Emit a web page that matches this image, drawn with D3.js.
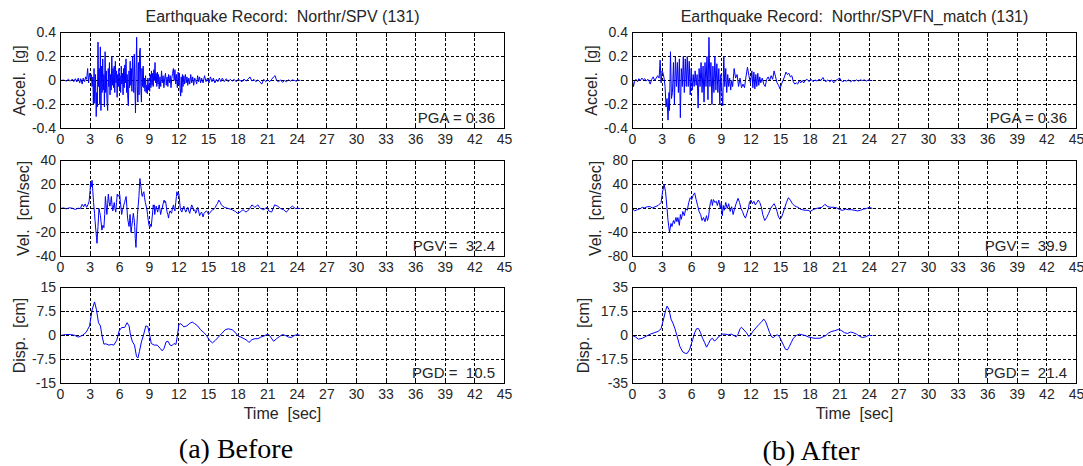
<!DOCTYPE html>
<html>
<head>
<meta charset="utf-8">
<script src="https://cdn.jsdelivr.net/npm/d3@7"></script>
<style>
  body { margin: 0; background: #fff; }
  svg { display: block; }
  text { font-family: "Liberation Sans", Arial, sans-serif; fill: #262626; }
  .caption { font-family: "Liberation Serif", "Times New Roman", serif; fill: #000; }
</style>
</head>
<body>
<svg id="chart" width="1083" height="466"></svg>
<script>
// ---- Record names and peak values ----
const titleBefore = "Earthquake Record:  Northr/SPV (131)";
const titleAfter = "Earthquake Record:  Northr/SPVFN_match (131)";
const captionBefore = "(a) Before";
const captionAfter = "(b) After";
const peaksBefore = [0.36, 32.4, 10.5];   // PGA [g], PGV [cm/sec], PGD [cm]
const peaksAfter = [0.36, 39.9, 21.4];

// ---- Tick labels ----
const timeTicks = [0, 3, 6, 9, 12, 15, 18, 21, 24, 27, 30, 33, 36, 39, 42, 45];
const accelTicks = [-0.4, -0.2, 0, 0.2, 0.4];
const velTicksBefore = [-40, -20, 0, 20, 40];
const dispTicksBefore = [-15, -7.5, 0, 7.5, 15];
const velTicksAfter = [-80, -40, 0, 40, 80];
const dispTicksAfter = [-35, -17.5, 0, 17.5, 35];

// ---- Time histories: [time (sec), value] ----
const accelBefore = [[0,0],[0.3,0.003],[0.6,-0.004],[0.8,0.01],[1.0,-0.005],[1.2,0.012],[1.35,-0.01],[1.5,0.015],[1.65,-0.012],[1.8,0.02],[1.95,-0.02],[2.05,0.015],[2.2,-0.03],[2.3,0.02],[2.45,-0.01],[2.55,0.03],[2.65,0.01],[2.75,0.1],[2.85,-0.02],[2.95,0.06],[3.05,0.02],[3.12,0.05],[3.2,-0.05],[3.28,0.03],[3.33,-0.2],[3.4,0.1],[3.47,-0.19],[3.55,0.05],[3.62,-0.3],[3.68,-0.1],[3.74,-0.22],[3.8,0.32],[3.86,-0.05],[3.92,0.1],[3.98,-0.2],[4.04,0.28],[4.1,-0.25],[4.16,0.12],[4.22,-0.1],[4.28,0.18],[4.34,-0.08],[4.4,0.05],[4.45,-0.22],[4.52,0.24],[4.58,-0.1],[4.64,0.08],[4.7,-0.15],[4.78,-0.25],[4.84,0.1],[4.9,-0.05],[4.96,0.15],[5.02,-0.12],[5.08,0.05],[5.14,-0.08],[5.2,0.2],[5.26,-0.04],[5.32,0.1],[5.38,-0.06],[5.44,0.12],[5.5,-0.1],[5.56,0.16],[5.62,-0.02],[5.68,0.08],[5.74,-0.14],[5.8,0.05],[5.86,-0.05],[5.92,0.1],[5.98,-0.08],[6.04,0.04],[6.1,-0.1],[6.16,0.12],[6.22,-0.03],[6.28,0.06],[6.34,-0.12],[6.4,0.1],[6.46,-0.06],[6.52,0.13],[6.58,-0.02],[6.64,0.18],[6.7,-0.1],[6.76,0.05],[6.82,-0.15],[6.88,-0.21],[6.94,0.08],[7.0,-0.06],[7.06,0.16],[7.12,-0.04],[7.18,0.1],[7.24,-0.09],[7.3,0.2],[7.36,0.05],[7.42,-0.1],[7.48,0.22],[7.54,-0.05],[7.6,-0.27],[7.66,0.1],[7.72,0.36],[7.78,-0.05],[7.84,-0.18],[7.9,0.15],[7.96,-0.12],[8.02,0.25],[8.08,0.27],[8.14,-0.05],[8.2,-0.18],[8.26,0.1],[8.32,-0.05],[8.38,0.12],[8.44,-0.06],[8.5,0.02],[8.56,-0.09],[8.62,0.04],[8.68,-0.1],[8.74,-0.04],[8.8,-0.11],[8.86,0.02],[8.92,-0.08],[8.98,-0.03],[9.04,-0.09],[9.1,0.05],[9.16,-0.06],[9.22,0.08],[9.28,-0.04],[9.34,0.06],[9.4,-0.05],[9.46,0.09],[9.52,0.0],[9.58,0.15],[9.64,-0.02],[9.7,0.06],[9.76,-0.05],[9.82,0.07],[9.88,-0.03],[9.94,0.05],[10.0,-0.07],[10.08,0.03],[10.16,-0.05],[10.24,0.08],[10.32,-0.02],[10.4,0.04],[10.48,-0.06],[10.56,0.02],[10.64,0.06],[10.72,-0.04],[10.8,0.03],[10.88,-0.05],[10.96,0.05],[11.04,-0.02],[11.12,0.04],[11.2,-0.06],[11.28,0.02],[11.36,0.06],[11.44,0.1],[11.52,0.0],[11.6,0.09],[11.68,-0.03],[11.76,0.05],[11.84,-0.06],[11.92,0.07],[12.0,-0.04],[12.06,0.06],[12.12,-0.08],[12.18,-0.13],[12.24,0.03],[12.3,-0.1],[12.36,0.05],[12.42,-0.05],[12.5,0.04],[12.58,-0.03],[12.66,0.05],[12.74,-0.02],[12.82,0.03],[12.9,-0.04],[13.0,0.02],[13.1,-0.03],[13.2,0.05],[13.3,-0.02],[13.4,0.03],[13.5,-0.04],[13.6,0.02],[13.7,0.0],[13.8,-0.03],[13.9,0.04],[14.0,-0.01],[14.1,0.03],[14.2,-0.02],[14.3,0.02],[14.45,-0.02],[14.6,0.04],[14.75,-0.01],[14.9,0.02],[15.05,-0.02],[15.2,0.03],[15.35,-0.01],[15.5,0.02],[15.65,-0.02],[15.8,0.01],[15.95,-0.01],[16.1,0.02],[16.25,-0.01],[16.4,0.02],[16.6,-0.01],[16.8,0.015],[17.0,-0.01],[17.2,0.01],[17.4,-0.005],[17.6,0.01],[17.8,-0.01],[18.0,0.01],[18.2,0.0],[18.4,-0.01],[18.6,0.012],[18.8,-0.005],[19.0,0.01],[19.2,0.03],[19.4,-0.005],[19.6,0.01],[19.8,-0.01],[20.0,0.005],[20.2,-0.01],[20.4,-0.03],[20.6,0.01],[20.8,-0.01],[21.0,0.005],[21.2,-0.01],[21.4,0.01],[21.6,0.03],[21.75,0.04],[21.9,0.0],[22.1,-0.01],[22.3,0.005],[22.5,-0.015],[22.7,0.0],[22.9,-0.01],[23.1,0.005],[23.3,-0.005],[23.5,0.005],[23.7,0.0],[23.9,-0.005],[24.1,0.003],[24.3,0.0]];

const velBefore = [[0,0],[0.3,0.5],[0.6,-0.3],[0.9,0.6],[1.2,0.2],[1.5,-0.8],[1.8,0.3],[2.0,-0.2],[2.2,3.5],[2.35,1.5],[2.5,3.8],[2.65,1.0],[2.8,3.5],[2.9,6],[3.0,15],[3.05,22],[3.12,18],[3.2,23.5],[3.28,14],[3.35,5],[3.45,-4],[3.5,-10],[3.58,-18],[3.65,-24],[3.7,-29],[3.76,-20],[3.8,-15],[3.85,-8],[3.9,0],[3.97,-3],[4.05,-6],[4.12,-12],[4.2,-18],[4.3,-14],[4.4,-16],[4.48,-5],[4.55,10],[4.62,3],[4.7,-5],[4.78,4],[4.85,12],[4.92,6],[5.0,2],[5.08,5],[5.15,10],[5.22,3],[5.3,-2],[5.38,2],[5.45,5],[5.52,0],[5.6,-3],[5.68,5],[5.75,12],[5.82,10],[5.9,11],[6.0,12],[6.06,6],[6.1,3],[6.2,-5],[6.28,-1],[6.35,0],[6.42,3],[6.5,5],[6.58,8],[6.65,10],[6.72,2],[6.8,-8],[6.88,-12],[6.95,-15],[7.0,-10],[7.05,-5],[7.1,-12],[7.15,-20],[7.22,-15],[7.3,-10],[7.38,-4],[7.45,-8],[7.52,-15],[7.58,-25],[7.65,-32.4],[7.72,-18],[7.8,-5],[7.88,3],[7.95,10],[8.0,18],[8.05,25],[8.12,20],[8.2,15],[8.25,11],[8.3,10],[8.38,13],[8.45,14],[8.52,9],[8.6,5],[8.68,2],[8.75,0],[8.82,-5],[8.9,-10],[8.97,-14],[9.05,-16],[9.12,-13],[9.2,-15],[9.28,-8],[9.35,-2],[9.4,3],[9.45,1],[9.5,3],[9.55,-5],[9.62,-1],[9.7,2],[9.78,-1],[9.85,-3],[9.92,0],[10.0,3],[10.08,-1],[10.15,-5],[10.22,-2],[10.3,0],[10.4,4],[10.5,7],[10.58,5],[10.65,6],[10.72,2],[10.8,-3],[10.88,-5],[10.95,-8],[11.02,-4],[11.1,-2],[11.18,-3],[11.25,-4],[11.35,0],[11.45,3],[11.52,0],[11.6,-2],[11.68,5],[11.75,10],[11.8,14],[11.88,11],[11.95,13],[12.0,12],[12.08,5],[12.15,0],[12.22,-2],[12.3,-3],[12.4,0],[12.5,2],[12.6,-1],[12.7,-3],[12.8,-1],[12.9,1],[13.0,-2],[13.1,-4],[13.2,0],[13.3,3],[13.4,1],[13.5,-2],[13.6,-1],[13.7,-4],[13.8,-2],[13.9,1],[14.0,-2],[14.1,-6],[14.2,-4],[14.3,-3],[14.45,-7],[14.55,-4],[14.65,-3],[14.8,-2],[14.9,-3],[15.0,-5],[15.1,-4],[15.2,-3],[15.3,-2],[15.4,-1],[15.5,-1],[15.6,0],[15.7,1],[15.8,3],[15.9,4],[16.05,7],[16.2,5],[16.3,3],[16.45,2],[16.6,1],[16.8,0.5],[17.0,0],[17.2,-0.5],[17.4,-1],[17.6,-2],[17.75,-2.5],[17.9,-4],[18.05,-3.5],[18.2,-3],[18.35,-2],[18.5,-1],[18.65,-2],[18.8,-3],[18.95,-2],[19.1,-1],[19.25,1],[19.4,3],[19.55,2],[19.7,1],[19.85,2],[20.0,3],[20.15,1],[20.3,0],[20.45,-0.5],[20.6,-1],[20.75,0],[20.9,1],[21.0,0],[21.1,-2],[21.25,-2.5],[21.4,-3],[21.55,0],[21.7,3],[21.85,2.5],[22.0,2],[22.15,1],[22.3,0],[22.45,-0.5],[22.6,-1],[22.75,-2],[22.9,-3],[23.05,-1.5],[23.2,0],[23.35,1],[23.5,2],[23.65,1],[23.8,0],[24.0,0.2],[24.3,0]];

const dispBefore = [[0,0],[0.5,0.3],[1.0,0.3],[1.4,0.1],[1.8,-0.5],[2.2,0],[2.6,1],[2.95,3],[3.2,8],[3.45,10.5],[3.65,8],[3.85,4],[4.05,3],[4.2,0],[4.4,-2.7],[4.6,-2.6],[4.9,-3],[5.2,-2.8],[5.4,-3],[5.7,-1.5],[5.95,1.5],[6.2,2.5],[6.5,2.5],[6.75,4],[6.95,3],[7.1,0],[7.3,-2],[7.5,-3],[7.7,-6.5],[7.85,-7],[8.0,-5],[8.2,-2],[8.4,0],[8.65,3],[8.85,2.8],[9.05,0],[9.2,-2.5],[9.5,-3],[9.8,-3],[10.1,-4],[10.3,-4.8],[10.5,-4],[10.7,-2],[10.9,-1.8],[11.1,-3],[11.3,-3.2],[11.5,-2.5],[11.7,-2.8],[11.85,0],[12.0,3.5],[12.2,3.7],[12.5,2.7],[12.8,3],[13.1,3.8],[13.35,4.2],[13.6,3.7],[13.9,3],[14.2,1.8],[14.5,1],[14.8,0],[15.1,-1.5],[15.4,-2.3],[15.7,-1.5],[16.0,-0.5],[16.3,0.5],[16.7,1.8],[17.0,2.1],[17.4,1.8],[17.7,1],[18.0,-0.2],[18.3,-0.5],[18.6,-1],[18.9,-1.5],[19.1,-2.2],[19.4,-1.3],[19.7,-1],[20.0,-1],[20.3,-0.5],[20.6,-0.2],[20.9,0.3],[21.1,0.3],[21.3,-0.5],[21.6,-1.8],[21.9,-1],[22.2,-0.3],[22.5,0.3],[22.8,0],[23.1,-0.5],[23.4,-0.6],[23.7,0],[24.0,0.3],[24.3,0]];

const accelAfter = [[0,0],[0.1,-0.05],[0.2,-0.01],[0.35,0.01],[0.5,-0.01],[0.65,0.015],[0.8,0.0],[0.95,0.02],[1.1,0.005],[1.25,0.015],[1.4,-0.005],[1.55,0.01],[1.7,-0.01],[1.8,-0.03],[1.95,0.01],[2.1,0.03],[2.25,0.0],[2.4,0.02],[2.55,0.04],[2.7,0.02],[2.8,0.17],[2.9,-0.02],[3.0,0.08],[3.1,0.06],[3.2,0.02],[3.3,-0.05],[3.4,-0.22],[3.5,-0.15],[3.6,-0.33],[3.7,-0.1],[3.75,-0.25],[3.85,0.24],[3.95,-0.15],[4.05,-0.1],[4.15,0.15],[4.25,-0.2],[4.35,0.2],[4.45,-0.05],[4.55,0.15],[4.65,-0.1],[4.75,0.18],[4.85,-0.31],[4.95,0.1],[5.05,-0.05],[5.15,0.2],[5.25,-0.1],[5.35,0.18],[5.45,-0.05],[5.55,0.2],[5.65,-0.05],[5.75,0.16],[5.85,-0.12],[5.95,0.1],[6.05,-0.08],[6.15,0.05],[6.25,-0.05],[6.35,0.08],[6.45,-0.04],[6.55,0.05],[6.65,-0.23],[6.75,0.1],[6.85,-0.05],[6.95,0.15],[7.05,-0.1],[7.15,0.12],[7.25,-0.18],[7.35,0.15],[7.45,-0.05],[7.55,0.2],[7.65,-0.16],[7.75,0.36],[7.85,-0.05],[7.95,0.15],[8.05,-0.2],[8.15,0.12],[8.25,-0.1],[8.35,0.2],[8.45,-0.08],[8.55,0.14],[8.65,-0.1],[8.75,0.1],[8.85,-0.2],[8.95,0.05],[9.05,-0.08],[9.15,-0.21],[9.25,0.2],[9.35,-0.05],[9.45,0.1],[9.55,-0.1],[9.65,0.05],[9.75,-0.05],[9.85,0.02],[9.95,-0.08],[10.05,0.0],[10.15,-0.05],[10.3,0.1],[10.45,0.02],[10.6,0.05],[10.75,-0.05],[10.9,0.02],[11.05,-0.06],[11.2,-0.03],[11.35,-0.06],[11.5,0.03],[11.65,0.11],[11.8,0.04],[11.95,-0.02],[12.1,0.08],[12.2,-0.06],[12.3,0.07],[12.4,-0.07],[12.5,0.05],[12.6,-0.05],[12.7,0.06],[12.8,-0.04],[12.9,0.03],[13.0,-0.02],[13.15,0.02],[13.3,-0.03],[13.45,-0.05],[13.6,0.01],[13.75,0.03],[13.9,0.0],[14.05,0.04],[14.2,0.01],[14.35,0.08],[14.5,0.03],[14.65,-0.02],[14.8,-0.04],[14.95,-0.07],[15.1,-0.03],[15.25,0.0],[15.4,0.03],[15.55,0.07],[15.7,0.05],[15.85,0.06],[16.0,0.03],[16.15,0.04],[16.3,-0.01],[16.45,-0.03],[16.6,-0.02],[16.75,-0.03],[16.9,0.0],[17.05,-0.02],[17.2,0.0],[17.35,-0.02],[17.5,0.0],[17.7,0.01],[17.9,-0.01],[18.1,0.01],[18.3,-0.01],[18.5,0.005],[18.7,-0.005],[18.9,0.01],[19.1,0.0],[19.3,0.025],[19.45,0.0],[19.6,-0.01],[19.8,0.005],[20.0,-0.01],[20.2,0.005],[20.4,-0.02],[20.6,0.0],[20.8,0.01],[21.0,0.02],[21.15,0.0],[21.3,-0.01],[21.5,0.0],[21.7,-0.005],[21.9,0.005],[22.1,-0.01],[22.3,0.0],[22.5,-0.005],[22.7,0.005],[22.9,-0.005],[23.1,0.005],[23.3,0.0],[23.5,0.005],[23.7,-0.005],[23.9,0.005],[24.1,0.0],[24.3,0.0]];

const velAfter = [[0,0],[0.2,-4],[0.5,-2],[0.8,0],[1.0,2],[1.2,1],[1.5,3],[1.8,3],[2.0,1],[2.3,3],[2.6,5],[2.9,10],[3.05,28],[3.2,39.9],[3.35,28],[3.5,0],[3.6,-20],[3.75,-39.5],[3.9,-25],[4.0,-30],[4.15,-20],[4.25,-25],[4.4,-15],[4.5,-22],[4.6,-15],[4.75,-28],[4.85,-10],[4.95,-18],[5.1,-5],[5.25,-12],[5.4,0],[5.55,-3],[5.7,10],[5.85,18],[6.0,15],[6.15,22],[6.3,26],[6.45,15],[6.6,5],[6.75,-5],[6.9,-10],[7.05,-20],[7.2,-15],[7.35,-22],[7.5,-12],[7.6,-20],[7.7,-15],[7.8,0],[7.9,10],[8.0,15],[8.1,5],[8.2,15],[8.35,10],[8.5,12],[8.6,5],[8.75,14],[8.9,0],[9.0,10],[9.1,-12],[9.2,5],[9.3,-3],[9.45,10],[9.6,0],[9.75,8],[9.9,-5],[10.05,3],[10.2,-10],[10.35,0],[10.5,8],[10.7,17],[10.85,10],[11.0,0],[11.15,-5],[11.3,-12],[11.45,-16],[11.6,-8],[11.75,0],[11.85,10],[12.0,14],[12.15,8],[12.3,12],[12.45,6],[12.6,10],[12.75,14],[12.9,10],[13.05,3],[13.2,-10],[13.4,-20],[13.6,-15],[13.8,-8],[14.0,0],[14.2,5],[14.35,8],[14.5,3],[14.65,-5],[14.8,-14],[14.95,-18],[15.1,-15],[15.25,-8],[15.4,0],[15.6,10],[15.8,18],[16.0,14],[16.2,8],[16.4,5],[16.6,3],[16.8,2],[17.0,-1],[17.2,-2],[17.5,-3],[17.8,-3],[18.0,-5],[18.3,-2],[18.6,0],[18.9,1],[19.2,2],[19.5,7],[19.8,3],[20.1,2],[20.4,2],[20.7,1],[21.0,-2],[21.3,-3],[21.6,-1],[21.9,-2],[22.2,-2],[22.5,-3],[22.8,-4],[23.1,-3],[23.4,-1],[23.7,0],[24.0,2],[24.3,0]];

const dispAfter = [[0,0],[0.3,-1],[0.6,-2.7],[1.0,-2],[1.4,-0.5],[1.8,1],[2.2,2],[2.6,3],[2.9,5],[3.15,12],[3.35,18],[3.5,21.4],[3.7,19],[3.9,12],[4.1,9],[4.3,5],[4.5,0],[4.8,-8],[5.1,-12],[5.35,-13],[5.55,-13],[5.8,-10],[6.1,-3],[6.3,2],[6.5,5],[6.7,5],[6.9,2],[7.1,-2],[7.3,-5],[7.5,-8.5],[7.7,-6],[7.9,-3],[8.1,-2],[8.3,-4],[8.5,-3],[8.7,-1],[8.9,0],[9.1,1],[9.4,1],[9.7,0.5],[10.0,1],[10.3,0],[10.5,-1],[10.7,1],[10.9,5],[11.05,6],[11.3,4],[11.55,2],[11.75,-0.5],[11.95,0],[12.2,3],[12.5,5.5],[12.8,8],[13.1,10],[13.3,12],[13.5,10],[13.7,6],[13.9,2],[14.1,-1],[14.3,-1.5],[14.5,0],[14.7,0.5],[14.9,-1],[15.1,-4],[15.3,-7],[15.5,-10],[15.7,-10.5],[15.9,-8],[16.1,-5],[16.3,-2],[16.6,0],[16.9,1],[17.2,0.5],[17.5,0],[17.8,-1],[18.1,-1.5],[18.4,-2],[18.7,-2],[19.0,-2],[19.3,-1],[19.6,0],[19.9,2],[20.2,3],[20.5,3.5],[20.9,4.5],[21.2,3.5],[21.5,2],[21.8,1.5],[22.1,2.5],[22.4,2],[22.7,1],[23.0,-0.5],[23.3,-1.5],[23.6,-1],[23.9,0],[24.3,0]];

// ---- Layout ----
const W = 1083, H = 466;
const plotW = 444, plotH = 96;
const rowTops = [32.5, 160.5, 287.5];
const tickLen = 4;

const panels = [
  { left: 60.5, title: titleBefore, caption: captionBefore, capX: 236, capY: 458,
    series: [accelBefore, velBefore, dispBefore],
    ticks: [accelTicks, velTicksBefore, dispTicksBefore],
    peaks: peaksBefore },
  { left: 632.5, title: titleAfter, caption: captionAfter, capX: 811, capY: 460,
    series: [accelAfter, velAfter, dispAfter],
    ticks: [accelTicks, velTicksAfter, dispTicksAfter],
    peaks: peaksAfter }
];
const rowLabels = ["Accel.  [g]", "Vel.  [cm/sec]", "Disp.  [cm]"];
const peakText = [
  v => "PGA = " + v.toFixed(2),
  v => "PGV =  " + v.toFixed(1),
  v => "PGD =  " + v.toFixed(1)
];

const svg = d3.select("#chart");
svg.append("rect").attr("width", W).attr("height", H).attr("fill", "#fff");

panels.forEach(p => {
  const x = d3.scaleLinear().domain([0, 45]).range([p.left, p.left + plotW]);

  // record title
  svg.append("text")
    .attr("x", p.left + plotW / 2).attr("y", 22)
    .attr("text-anchor", "middle").attr("font-size", 16)
    .style("white-space", "pre")
    .text(p.title);

  p.series.forEach((data, r) => {
    const top = rowTops[r], bottom = top + plotH;
    const ticks = p.ticks[r];
    const y = d3.scaleLinear().domain([ticks[0], ticks[ticks.length - 1]]).range([bottom, top]);
    const g = svg.append("g");
    const snap = v => Math.round(v - 0.5) + 0.5;

    // dashed grid
    const grid = g.append("g").attr("stroke", "#000").attr("stroke-width", 1)
      .attr("stroke-dasharray", "3,2").attr("shape-rendering", "crispEdges");
    timeTicks.slice(1, -1).forEach(t => {
      grid.append("line").attr("x1", snap(x(t))).attr("x2", snap(x(t)))
        .attr("y1", top).attr("y2", bottom);
    });
    ticks.slice(1, -1).forEach(v => {
      grid.append("line").attr("y1", snap(y(v))).attr("y2", snap(y(v)))
        .attr("x1", p.left).attr("x2", p.left + plotW);
    });

    // time history
    const line = d3.line().x(d => x(d[0])).y(d => y(d[1]));
    g.append("path").datum(data)
      .attr("fill", "none").attr("stroke", "#0000ff").attr("stroke-width", 1)
      .attr("stroke-linejoin", "round")
      .attr("d", line);

    // frame and inward ticks
    const frame = g.append("g").attr("stroke", "#000").attr("stroke-width", 1)
      .attr("shape-rendering", "crispEdges");
    frame.append("rect").attr("x", p.left).attr("y", top)
      .attr("width", plotW).attr("height", plotH).attr("fill", "none");
    timeTicks.forEach(t => {
      const xx = snap(x(t));
      frame.append("line").attr("x1", xx).attr("x2", xx).attr("y1", bottom).attr("y2", bottom - tickLen);
      frame.append("line").attr("x1", xx).attr("x2", xx).attr("y1", top).attr("y2", top + tickLen);
    });
    ticks.forEach(v => {
      const yy = snap(y(v));
      frame.append("line").attr("y1", yy).attr("y2", yy).attr("x1", p.left).attr("x2", p.left + tickLen);
      frame.append("line").attr("y1", yy).attr("y2", yy).attr("x1", p.left + plotW).attr("x2", p.left + plotW - tickLen);
    });

    // tick labels
    timeTicks.forEach(t => {
      g.append("text").attr("x", x(t)).attr("y", bottom + 15.5)
        .attr("text-anchor", "middle").attr("font-size", 14).text(t);
    });
    let minLeft = Infinity;
    ticks.forEach(v => {
      const tx = g.append("text").attr("x", p.left - 4.5).attr("y", y(v)).attr("dy", "0.35em")
        .attr("text-anchor", "end").attr("font-size", 14).text(String(v));
      minLeft = Math.min(minLeft, p.left - 4.5 - tx.node().getComputedTextLength());
    });

    // axis label
    const lx = minLeft - 7;
    g.append("text")
      .attr("transform", `translate(${lx},${(top + bottom) / 2}) rotate(-90)`)
      .attr("text-anchor", "middle").attr("font-size", 16)
      .style("white-space", "pre")
      .text(rowLabels[r]);

    // peak value
    g.append("text")
      .attr("x", p.left + plotW - 9.5).attr("y", bottom - 5.5)
      .attr("text-anchor", "end").attr("font-size", 15)
      .style("white-space", "pre")
      .text(peakText[r](p.peaks[r]));
  });

  // time axis label
  svg.append("text")
    .attr("x", p.left + plotW / 2).attr("y", 419)
    .attr("text-anchor", "middle").attr("font-size", 16)
    .style("white-space", "pre")
    .text("Time  [sec]");

  // sub-figure caption
  svg.append("text").attr("class", "caption")
    .attr("x", p.capX).attr("y", p.capY)
    .attr("text-anchor", "middle").attr("font-size", 28)
    .text(p.caption);
});
</script>
</body>
</html>
